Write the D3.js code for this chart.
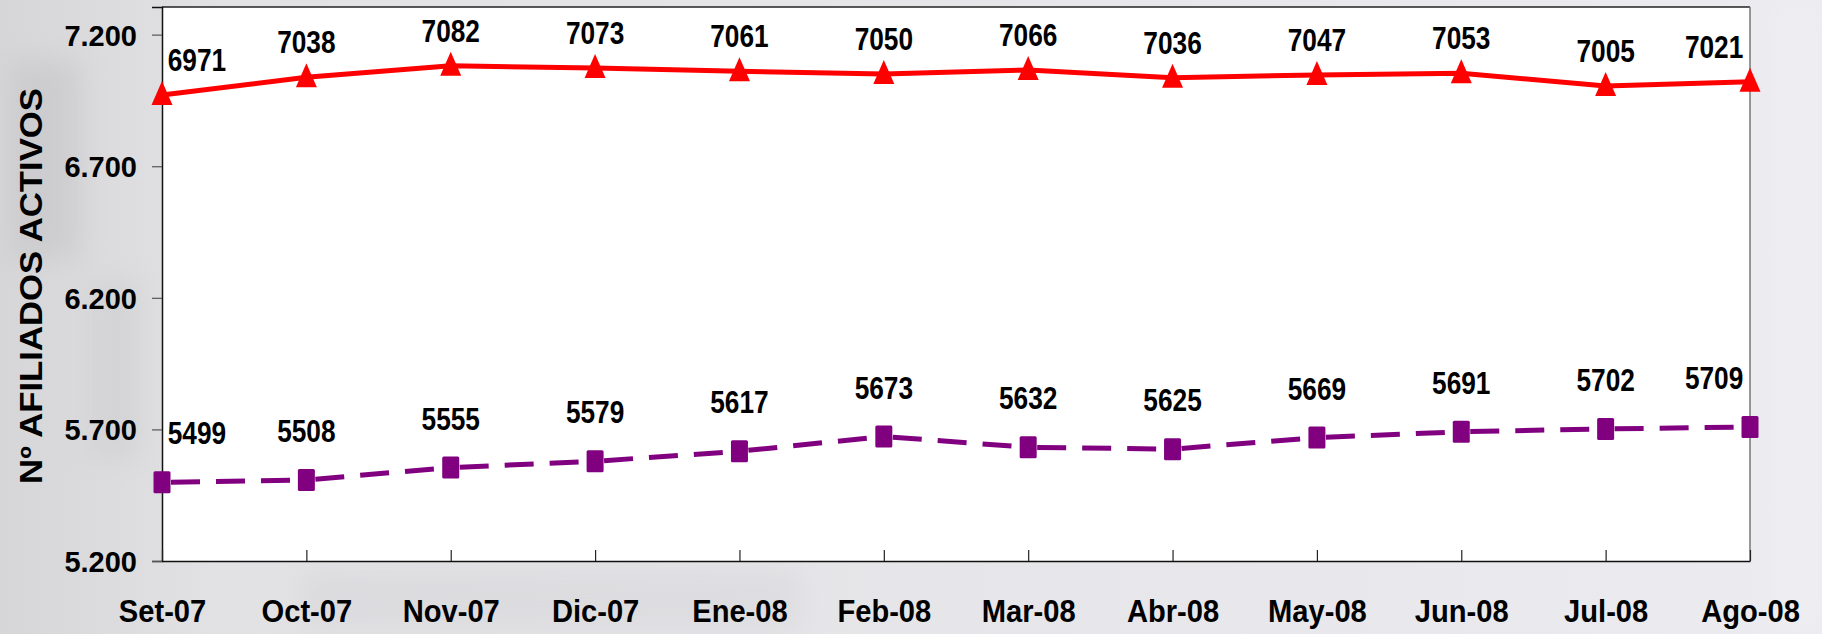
<!DOCTYPE html>
<html>
<head>
    <meta charset="utf-8">
    <script src="https://d3js.org/d3.v7.min.js"></script>
    <style>
        body { margin: 0; background: #e4e4e8; }
        text { font-family: "Liberation Sans", Arial, sans-serif; font-weight: bold; fill: #000; }
    </style>
</head>
<body>
    <div class="chart"></div>

<script>

    const meses = ["Set-07", "Oct-07", "Nov-07", "Dic-07", "Ene-08", "Feb-08",
                   "Mar-08", "Abr-08", "May-08", "Jun-08", "Jul-08", "Ago-08"];
    const serieRoja = [6971, 7038, 7082, 7073, 7061, 7050, 7066, 7036, 7047, 7053, 7005, 7021];
    const seriePurpura = [5499, 5508, 5555, 5579, 5617, 5673, 5632, 5625, 5669, 5691, 5702, 5709];
    const yTicks = [5200, 5700, 6200, 6700, 7200];
    const yTitulo = "Nº AFILIADOS ACTIVOS";

    const width = 1822;
    const height = 634;
    const plotL = 162, plotR = 1750, plotT = 7, plotB = 561;

    const es = d3.formatLocale({ decimal: ",", thousands: ".", grouping: [3], currency: ["", "€"] });

    const svg = d3.select('.chart')
        .append('svg')
        .attr('width', width)
        .attr('height', height)

    // faded background (photo in the original)
    const defs = svg.append("defs");
    const grad = defs.append("linearGradient").attr("id", "bg").attr("x1", 0).attr("x2", 1).attr("y1", 0).attr("y2", 0);
    grad.append("stop").attr("offset", "0%").attr("stop-color", "#d6d6d8");
    grad.append("stop").attr("offset", "12%").attr("stop-color", "#e2e2e4");
    grad.append("stop").attr("offset", "100%").attr("stop-color", "#ebebf0");
    defs.append("filter").attr("id", "blur").append("feGaussianBlur").attr("stdDeviation", 14);
    svg.append("rect").attr("width", width).attr("height", height).attr("fill", "url(#bg)");
    const manchas = svg.append("g").attr("filter", "url(#blur)").attr("opacity", 0.35);
    manchas.append("rect").attr("x", 10).attr("y", 60).attr("width", 70).attr("height", 200).attr("fill", "#b8b8bc");
    manchas.append("rect").attr("x", 90).attr("y", 280).attr("width", 50).attr("height", 180).attr("fill", "#c4c4c8");
    manchas.append("rect").attr("x", 300).attr("y", 570).attr("width", 500).attr("height", 60).attr("fill", "#cfcfd3");
    manchas.append("rect").attr("x", 1770).attr("y", 0).attr("width", 52).attr("height", 634).attr("fill", "#f2f2f6");

    // squeeze text widths like the original picture
    function squeeze(sel, k) {
        sel.each(function () {
            const w = this.getComputedTextLength();
            d3.select(this).attr("textLength", w * k).attr("lengthAdjust", "spacingAndGlyphs");
        });
    }

    const x = d3.scalePoint().domain(meses).range([plotL, plotR]);
    const y = d3.scaleLinear().domain([5200, 7305]).range([plotB, plotT]);

    // plot area
    svg.append("rect")
        .attr("x", plotL).attr("y", plotT)
        .attr("width", plotR - plotL).attr("height", plotB - plotT)
        .attr("fill", "#fff");
    svg.append("line").attr("x1", plotL).attr("x2", plotR).attr("y1", plotT).attr("y2", plotT)
        .attr("stroke", "#222").attr("stroke-width", 1.5);
    svg.append("line").attr("x1", plotR).attr("x2", plotR).attr("y1", plotT).attr("y2", plotB)
        .attr("stroke", "#777").attr("stroke-width", 1.5);

    // y axis
    const yAxis = svg.append("g")
        .attr("transform", "translate(" + plotL + ",0)")
        .call(d3.axisLeft(y).tickValues(yTicks).tickSize(10).tickPadding(15).tickFormat(es.format(",d")));
    yAxis.select(".domain").attr("stroke", "#111").attr("stroke-width", 1.5);
    yAxis.selectAll(".tick line").attr("stroke", "#555").attr("stroke-width", 1.2);
    yAxis.selectAll(".tick text").attr("font-size", 29).attr("dy", "0.36em");

    // x axis, ticks inward
    const xAxis = svg.append("g")
        .attr("transform", "translate(0," + plotB + ")")
        .call(d3.axisBottom(x).tickSize(-11).tickPadding(0).tickSizeOuter(0));
    xAxis.select(".domain").attr("stroke", "#111").attr("stroke-width", 1.5);
    xAxis.selectAll(".tick line").attr("stroke", "#222").attr("stroke-width", 1.2);
    xAxis.selectAll(".tick text").attr("font-size", 32).attr("y", 61).attr("dy", 0);
    squeeze(xAxis.selectAll(".tick text"), 0.91);

    // y title
    const titulo = svg.append("text")
        .attr("transform", "translate(42,286) rotate(-90)")
        .attr("text-anchor", "middle")
        .attr("font-size", 31)
        .text(yTitulo);
    squeeze(titulo, 1.12);

    // red series
    const rojaLine = d3.line().x((d, i) => x(meses[i])).y(d => y(d));
    svg.append("path")
        .datum(serieRoja)
        .attr("d", rojaLine)
        .attr("fill", "none")
        .attr("stroke", "#ff0000")
        .attr("stroke-width", 5);

    svg.selectAll(".tri")
        .data(serieRoja)
        .enter()
        .append("path")
        .attr("class", "tri")
        .attr("d", "M0,-14L10.5,10L-10.5,10Z")
        .attr("transform", (d, i) => "translate(" + x(meses[i]) + "," + y(d) + ")")
        .attr("fill", "#ff0000");

    // purple series, dash pattern restarts on each segment
    const segmentos = d3.pairs(seriePurpura.map((d, i) => [x(meses[i]), y(d)]));
    svg.selectAll(".seg")
        .data(segmentos)
        .enter()
        .append("line")
        .attr("class", "seg")
        .attr("x1", d => d[0][0]).attr("y1", d => d[0][1])
        .attr("x2", d => d[1][0]).attr("y2", d => d[1][1])
        .attr("stroke", "#800080")
        .attr("stroke-width", 5)
        .attr("stroke-dasharray", "29 16")
        .attr("stroke-dashoffset", -9);

    svg.selectAll(".sq")
        .data(seriePurpura)
        .enter()
        .append("rect")
        .attr("class", "sq")
        .attr("x", (d, i) => x(meses[i]) - 8.5)
        .attr("y", d => y(d) - 11)
        .attr("width", 17)
        .attr("height", 22)
        .attr("rx", 1.5)
        .attr("fill", "#800080");

    // data labels
    function etiquetas(data, cls, off) {
        const t = svg.selectAll("." + cls)
            .data(data)
            .enter()
            .append("text")
            .attr("class", cls)
            .attr("font-size", 32)
            .attr("text-anchor", "middle")
            .attr("y", d => y(d) - off)
            .attr("x", (d, i) => x(meses[i]))
            .text(d => d);
        squeeze(t, 0.82);
        t.attr("x", function (d, i) {
            const w = this.getComputedTextLength() * 0.82;
            return Math.max(plotL + 11 + w / 2, Math.min(plotR - 12 - w / 2, x(meses[i])));
        });
    }
    etiquetas(serieRoja, "lblRoja", 24);
    etiquetas(seriePurpura, "lblPurpura", 38);

</script>
</body>
</html>
